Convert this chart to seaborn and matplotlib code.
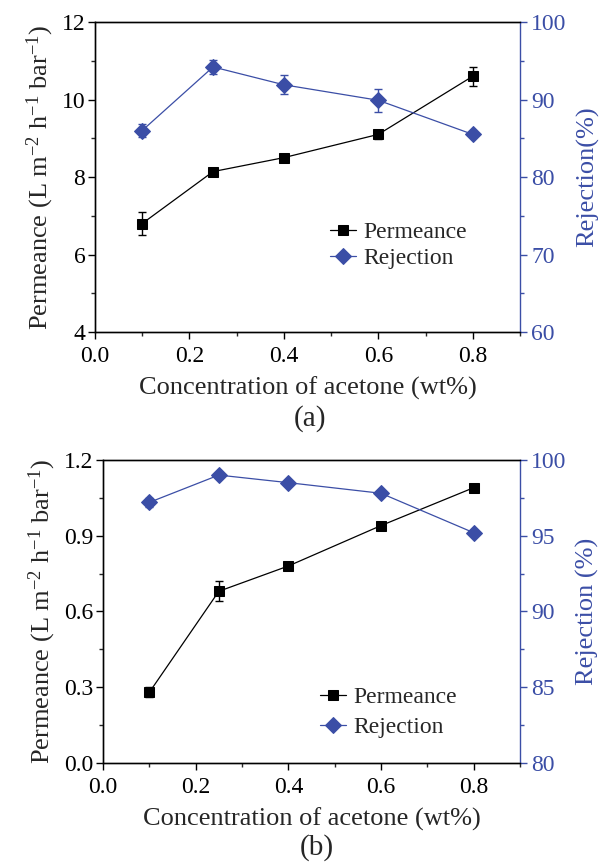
import numpy as np
import pandas as pd
import matplotlib
matplotlib.use("Agg")
import matplotlib.pyplot as plt
from matplotlib.ticker import MultipleLocator, FormatStrFormatter
import seaborn as sns

# acetone concentration (wt%)
conc = [0.1, 0.25, 0.4, 0.6, 0.8]

# panel (a)
perm_a = [6.8, 8.14, 8.5, 9.1, 10.6]
perm_a_err = [0.3, 0.0, 0.0, 0.12, 0.25]
rej_a = [86.0, 94.2, 91.9, 89.9, 85.5]
rej_a_err = [0.9, 0.9, 1.2, 1.5, 0.0]

# panel (b)
perm_b = [0.28, 0.68, 0.78, 0.94, 1.09]
perm_b_err = [0.02, 0.04, 0.015, 0.0, 0.0]
rej_b = [97.2, 99.0, 98.5, 97.8, 95.2]
rej_b_err = [0.3, 0.0, 0.0, 0.0, 0.0]

blue = '#3b4ea6'

sns.set_theme(style="ticks")
plt.rcParams['font.family'] = ['Liberation Serif', 'DejaVu Serif']
plt.rcParams['mathtext.fontset'] = 'custom'
plt.rcParams['mathtext.rm'] = 'Liberation Serif'
plt.rcParams['mathtext.it'] = 'Liberation Serif:italic'
plt.rcParams['axes.linewidth'] = 1.0

fig = plt.figure(figsize=(5.99, 8.66), dpi=100)

panels = [
    dict(pos=[0.1586, 0.6166, 0.7095, 0.358], perm=perm_a, perr=perm_a_err,
         rej=rej_a, rerr=rej_a_err, ylim=(4, 12), ymaj=2, ymin=1,
         rlim=(60, 100), rmaj=10, rmin=5, rlabel='Rejection(%)', fmt='%d',
         leg=(0.553, 0.28), lsp=0.2, tag='(a)', tagx=0.518, tagy=0.517),
    dict(pos=[0.172, 0.1189, 0.696, 0.35], perm=perm_b, perr=perm_b_err,
         rej=rej_b, rerr=rej_b_err, ylim=(0, 1.2), ymaj=0.3, ymin=0.15,
         rlim=(80, 100), rmaj=5, rmin=2.5, rlabel='Rejection (%)', fmt='%.1f',
         leg=(0.52, 0.167), lsp=0.35, tag='(b)', tagx=0.529, tagy=0.0208),
]

tfs = 17
lfs = 19
for p in panels:
    ax = fig.add_axes(p['pos'])
    ax2 = ax.twinx()
    df = pd.DataFrame({'conc': conc, 'perm': p['perm'], 'rej': p['rej']})

    ax.errorbar(conc, p['perm'], yerr=p['perr'], fmt='none', ecolor='black',
                elinewidth=1, capsize=3, capthick=1)
    sns.lineplot(data=df, x='conc', y='perm', ax=ax, color='black', marker='s',
                 markersize=7, markeredgecolor='black', linewidth=0.9, label='Permeance',
                 legend=False)
    ax2.errorbar(conc, p['rej'], yerr=p['rerr'], fmt='none', ecolor=blue,
                 elinewidth=1, capsize=3, capthick=1)
    sns.lineplot(data=df, x='conc', y='rej', ax=ax2, color=blue, marker='D',
                 markersize=8, markeredgecolor=blue, linewidth=0.9, label='Rejection',
                 legend=False)

    ax.set_xlim(0, 0.9)
    ax.set_ylim(*p['ylim'])
    ax2.set_ylim(*p['rlim'])
    ax.xaxis.set_major_locator(MultipleLocator(0.2))
    ax.xaxis.set_minor_locator(MultipleLocator(0.1))
    ax.yaxis.set_major_locator(MultipleLocator(p['ymaj']))
    ax.yaxis.set_minor_locator(MultipleLocator(p['ymin']))
    ax2.yaxis.set_major_locator(MultipleLocator(p['rmaj']))
    ax2.yaxis.set_minor_locator(MultipleLocator(p['rmin']))
    ax.xaxis.set_major_formatter(FormatStrFormatter('%.1f'))
    ax.yaxis.set_major_formatter(FormatStrFormatter(p['fmt']))

    ax.tick_params(axis='both', which='major', direction='out', length=5, width=1,
                   labelsize=tfs, colors='black', pad=2)
    ax.tick_params(axis='x', which='major', pad=5)
    ax.tick_params(axis='both', which='minor', direction='out', length=3, width=1)
    ax.tick_params(axis='x', which='both', top=False)
    ax2.tick_params(axis='y', which='major', direction='out', length=5, width=1,
                    labelsize=tfs, colors=blue, pad=3)
    ax2.tick_params(axis='y', which='minor', direction='out', length=3, width=1, colors=blue)

    for s in ['left', 'bottom', 'top']:
        ax2.spines[s].set_color('black')
    ax2.spines['right'].set_color(blue)
    ax.spines['right'].set_visible(False)

    ax.set_xlabel('Concentration of acetone (wt%)', fontsize=lfs, labelpad=7)
    ax.set_ylabel('Permeance (L m$^{-2}$ h$^{-1}$ bar$^{-1}$)', fontsize=lfs, labelpad=4)
    ax2.set_ylabel(p['rlabel'], fontsize=lfs, color=blue, labelpad=7)

    h1, l1 = ax.get_legend_handles_labels()
    h2, l2 = ax2.get_legend_handles_labels()
    ax2.legend(h1 + h2, l1 + l2, loc='center left', bbox_to_anchor=p['leg'],
               frameon=False, fontsize=tfs, handlelength=1.1, handletextpad=0.3,
               labelspacing=p['lsp'], borderaxespad=0, borderpad=0)

    fig.text(p['tagx'], p['tagy'], p['tag'], fontsize=21, ha='center', va='center')

fig.savefig('out.png', dpi=100)
